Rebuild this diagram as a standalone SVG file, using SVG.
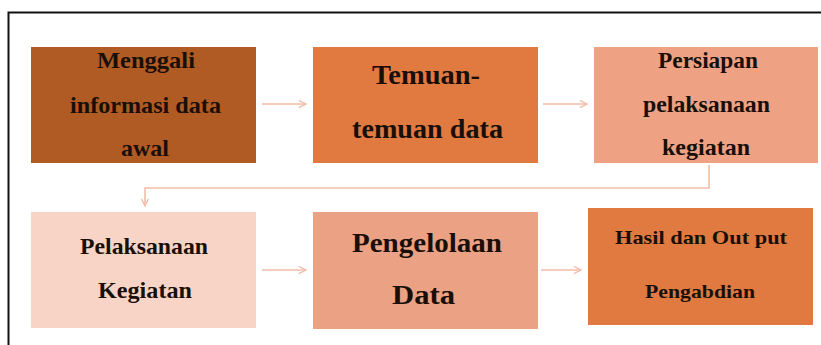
<svg xmlns="http://www.w3.org/2000/svg" width="821" height="345" viewBox="0 0 821 345">
  <style>
    .lbl { font-family: "Liberation Serif", "DejaVu Serif", serif; font-weight: bold; fill: #1a0f08; text-anchor: middle; }
    .s { font-size: 23px; }
    .x { font-size: 19px; }
    .l { font-size: 27px; }
    .conn { fill: none; stroke: #f3bca6; stroke-width: 1.6; marker-end: url(#head); }
  </style>
  <defs>
    <marker id="head" viewBox="0 0 10 10" refX="9" refY="5" markerWidth="9" markerHeight="9" markerUnits="userSpaceOnUse" orient="auto">
      <path d="M1,1 L9,5 L1,9" fill="none" stroke="#f3bca6" stroke-width="1.4"/>
    </marker>
  </defs>

  <rect width="821" height="345" fill="#ffffff"/>
  <!-- outer frame -->
  <path d="M8.5,345 V12.5 H821" fill="none" stroke="#111" stroke-width="2"/>

  <g id="node-menggali">
    <rect x="31" y="47" width="225" height="116" fill="#b05a24"/>
    <text class="lbl s" x="146" y="68" textLength="98" lengthAdjust="spacingAndGlyphs">Menggali</text>
    <text class="lbl s" x="145.5" y="113" textLength="151" lengthAdjust="spacingAndGlyphs">informasi data</text>
    <text class="lbl s" x="145" y="156" textLength="48" lengthAdjust="spacingAndGlyphs">awal</text>
  </g>

  <g id="node-temuan">
    <rect x="313" y="47" width="225" height="116" fill="#e07a41"/>
    <text class="lbl l" x="426" y="84" textLength="108" lengthAdjust="spacingAndGlyphs">Temuan-</text>
    <text class="lbl l" x="427.5" y="138" textLength="151" lengthAdjust="spacingAndGlyphs">temuan data</text>
  </g>

  <g id="node-persiapan">
    <rect x="594" y="47" width="224" height="116" fill="#eea283"/>
    <text class="lbl s" x="708" y="68" textLength="100" lengthAdjust="spacingAndGlyphs">Persiapan</text>
    <text class="lbl s" x="706.5" y="112" textLength="127" lengthAdjust="spacingAndGlyphs">pelaksanaan</text>
    <text class="lbl s" x="706" y="155" textLength="88" lengthAdjust="spacingAndGlyphs">kegiatan</text>
  </g>

  <g id="node-pelaksanaan">
    <rect x="31" y="212" width="225" height="116" fill="#f7d4c6"/>
    <text class="lbl s" x="144" y="254" textLength="128" lengthAdjust="spacingAndGlyphs">Pelaksanaan</text>
    <text class="lbl s" x="145" y="298" textLength="94" lengthAdjust="spacingAndGlyphs">Kegiatan</text>
  </g>

  <g id="node-pengelolaan">
    <rect x="313" y="212" width="225" height="117" fill="#eba183"/>
    <text class="lbl l" x="427" y="252" textLength="150" lengthAdjust="spacingAndGlyphs">Pengelolaan</text>
    <text class="lbl l" x="423.5" y="304" textLength="63" lengthAdjust="spacingAndGlyphs">Data</text>
  </g>

  <g id="node-hasil">
    <rect x="588" y="208" width="225" height="117" fill="#e07a41"/>
    <text class="lbl x" x="701" y="244" textLength="172" lengthAdjust="spacingAndGlyphs">Hasil dan Out put</text>
    <text class="lbl x" x="700" y="298" textLength="110" lengthAdjust="spacingAndGlyphs">Pengabdian</text>
  </g>

  <g id="connectors">
    <path class="conn" d="M262,104 H306"/>
    <path class="conn" d="M543,104 H587"/>
    <path class="conn" d="M709,165 V188 H145 V206"/>
    <path class="conn" d="M262,270 H306"/>
    <path class="conn" d="M541,270 H581"/>
  </g>
</svg>
